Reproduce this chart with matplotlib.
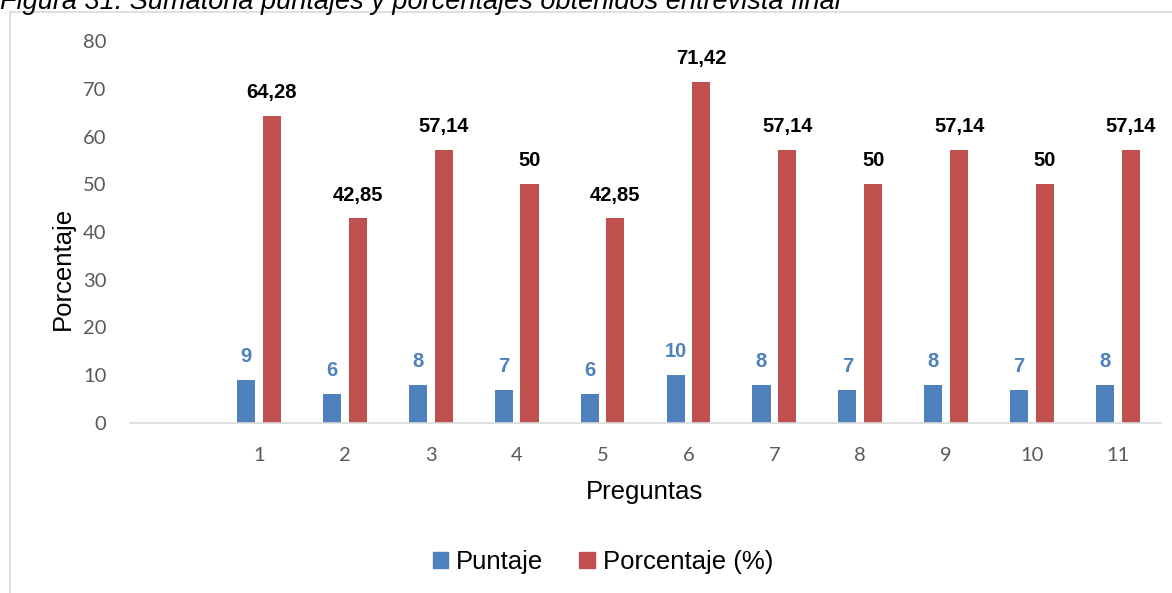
import matplotlib
import matplotlib.pyplot as plt
from matplotlib.patches import Patch
from matplotlib.lines import Line2D

matplotlib.use('Agg')

W, H = 1172, 593
DPI = 100

# datos
preguntas = ["", "1", "2", "3", "4", "5", "6", "7", "8", "9", "10", "11"]
puntaje = [None, 9, 6, 8, 7, 6, 10, 8, 7, 8, 7, 8]
porcentaje = [None, 64.28, 42.85, 57.14, 50, 42.85, 71.42, 57.14, 50, 57.14, 50, 57.14]
etiquetas_pct = ["", "64,28", "42,85", "57,14", "50", "42,85", "71,42", "57,14", "50", "57,14", "50", "57,14"]
etiquetas_pun = ["", "9", "6", "8", "7", "6", "10", "8", "7", "8", "7", "8"]

AZUL = "#4F81BD"
ROJO = "#C0504D"
GRIS = "#595959"
BORDE = "#D9D9D9"
TITULO = "Figura 31. Sumatoria puntajes y porcentajes obtenidos entrevista final"

plt.rcParams['font.family'] = ['Liberation Sans', 'DejaVu Sans']


def px(x, y):
    # pixeles (desde arriba a la izquierda) -> coordenadas de figura
    return x / W, 1 - y / H


fig = plt.figure(figsize=(W / DPI, H / DPI), dpi=DPI)

# marco del grafico
fig.add_artist(Line2D([px(10, 0)[0], px(10, 0)[0]], [0, px(0, 12)[1]], color=BORDE, lw=1.2))
fig.add_artist(Line2D([px(10, 0)[0], 1], [px(0, 12)[1], px(0, 12)[1]], color=BORDE, lw=1.2))

# titulo (cortado arriba, como en el original)
fig.text(0.0, px(0, 9)[1], TITULO, style='italic', fontsize=19.5, va='baseline', ha='left')

left, bottom = px(130, 423)
right, top = px(1161, 41)
ax = fig.add_axes([left, bottom, right - left, top - bottom])

x = list(range(len(preguntas)))
off = 0.15
w = 0.21
xb = [i - off for i in x[1:]]
xr = [i + off for i in x[1:]]
b1 = ax.bar(xb, puntaje[1:], width=w, color=AZUL, label="Puntaje")
b2 = ax.bar(xr, porcentaje[1:], width=w, color=ROJO, label="Porcentaje (%)")

ax.bar_label(b1, labels=etiquetas_pun[1:], padding=10, color=AZUL, fontsize=14.5, fontweight='bold')
ax.bar_label(b2, labels=etiquetas_pct[1:], padding=10, color='black', fontsize=14.5, fontweight='bold')

ax.set_xlim(-0.5, len(preguntas) - 0.5)
ax.set_ylim(0, 80)
ax.set_xticks(x)
ax.set_xticklabels(preguntas)
ax.set_yticks(range(0, 81, 10))

for s in ['top', 'right', 'left']:
    ax.spines[s].set_visible(False)
ax.spines['bottom'].set_color(BORDE)
ax.spines['bottom'].set_linewidth(1.2)

ax.tick_params(axis='both', length=0, colors=GRIS, labelsize=14.5)
ax.tick_params(axis='y', pad=17)
ax.tick_params(axis='x', pad=17)
for t in ax.get_xticklabels() + ax.get_yticklabels():
    t.set_fontfamily(['Lato', 'DejaVu Sans'])

fig.text(*px(63, 268), "Porcentaje", rotation=90, fontsize=18.5, ha='center', va='center')
fig.text(*px(645, 492), "Preguntas", fontsize=18.5, ha='center', va='center')

handles = [Patch(color=AZUL, label="Puntaje"), Patch(color=ROJO, label="Porcentaje (%)")]
fig.legend(handles=handles, loc='center', bbox_to_anchor=px(603, 562), ncol=2, frameon=False,
           fontsize=18.5, handlelength=0.6, handleheight=0.6, handletextpad=0.3, columnspacing=1.4)

plt.savefig("out.png", dpi=DPI)
plt.close()
